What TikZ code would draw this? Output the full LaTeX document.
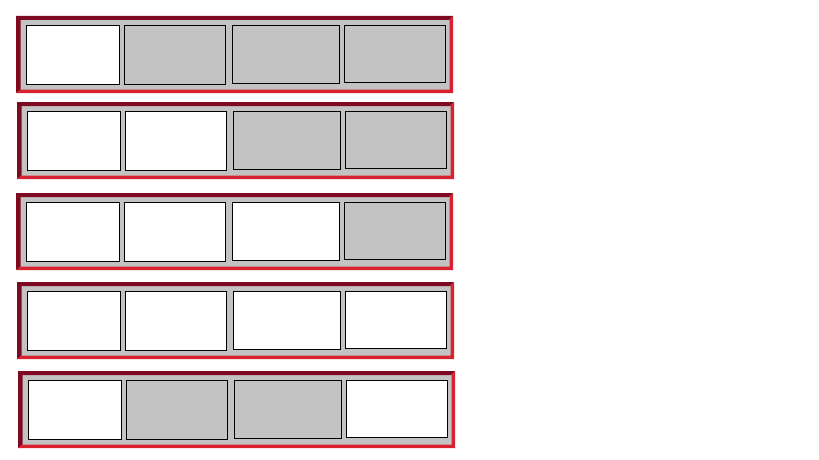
\documentclass[tikz,border=0pt]{standalone}
\begin{document}
\begin{tikzpicture}[x=1pt,y=-1pt,
  cellbox/.style={draw=black,line width=0.9pt},
  whitecell/.style={cellbox,fill=white},
  graycell/.style={cellbox,fill=cellgray}]
\definecolor{cellgray}{HTML}{C3C3C3}
\definecolor{darkred}{HTML}{7E0A22}
\definecolor{brightred}{HTML}{D9222F}
\useasboundingbox (0,0) rectangle (819,460);
\fill[white] (0,0) rectangle (819,460);
% one row: #1 #2 #3 #4 = fills of the four cells
\newcommand\barrow[4]{%
  \fill[cellgray] (16,16) rectangle (453,93);
  \fill[darkred] (16,16) -- (453,16) -- (449,20) -- (20.5,20) -- (20.5,89.5) -- (16,93) -- cycle;
  \fill[brightred] (453,16) -- (453,93) -- (16,93) -- (20.5,89.5) -- (449.5,89.5) -- (449.5,20) -- cycle;
  \draw[#1] (26,25) rectangle (119,84);
  \draw[#2] (124,25) rectangle (225,84);
  \draw[#3] (232,25) rectangle (339,83.3);
  \draw[#4] (344,25) rectangle (445,82.5);
}
\begin{scope}[shift={(0,0)}]\barrow{whitecell}{graycell}{graycell}{graycell}\end{scope}
\begin{scope}[shift={(1,86)}]\barrow{whitecell}{whitecell}{graycell}{graycell}\end{scope}
\begin{scope}[shift={(0,177)}]\barrow{whitecell}{whitecell}{whitecell}{graycell}\end{scope}
\begin{scope}[shift={(1,266)}]\barrow{whitecell}{whitecell}{whitecell}{whitecell}\end{scope}
\begin{scope}[shift={(2,355)}]\barrow{whitecell}{graycell}{graycell}{whitecell}\end{scope}
\end{tikzpicture}
\end{document}
